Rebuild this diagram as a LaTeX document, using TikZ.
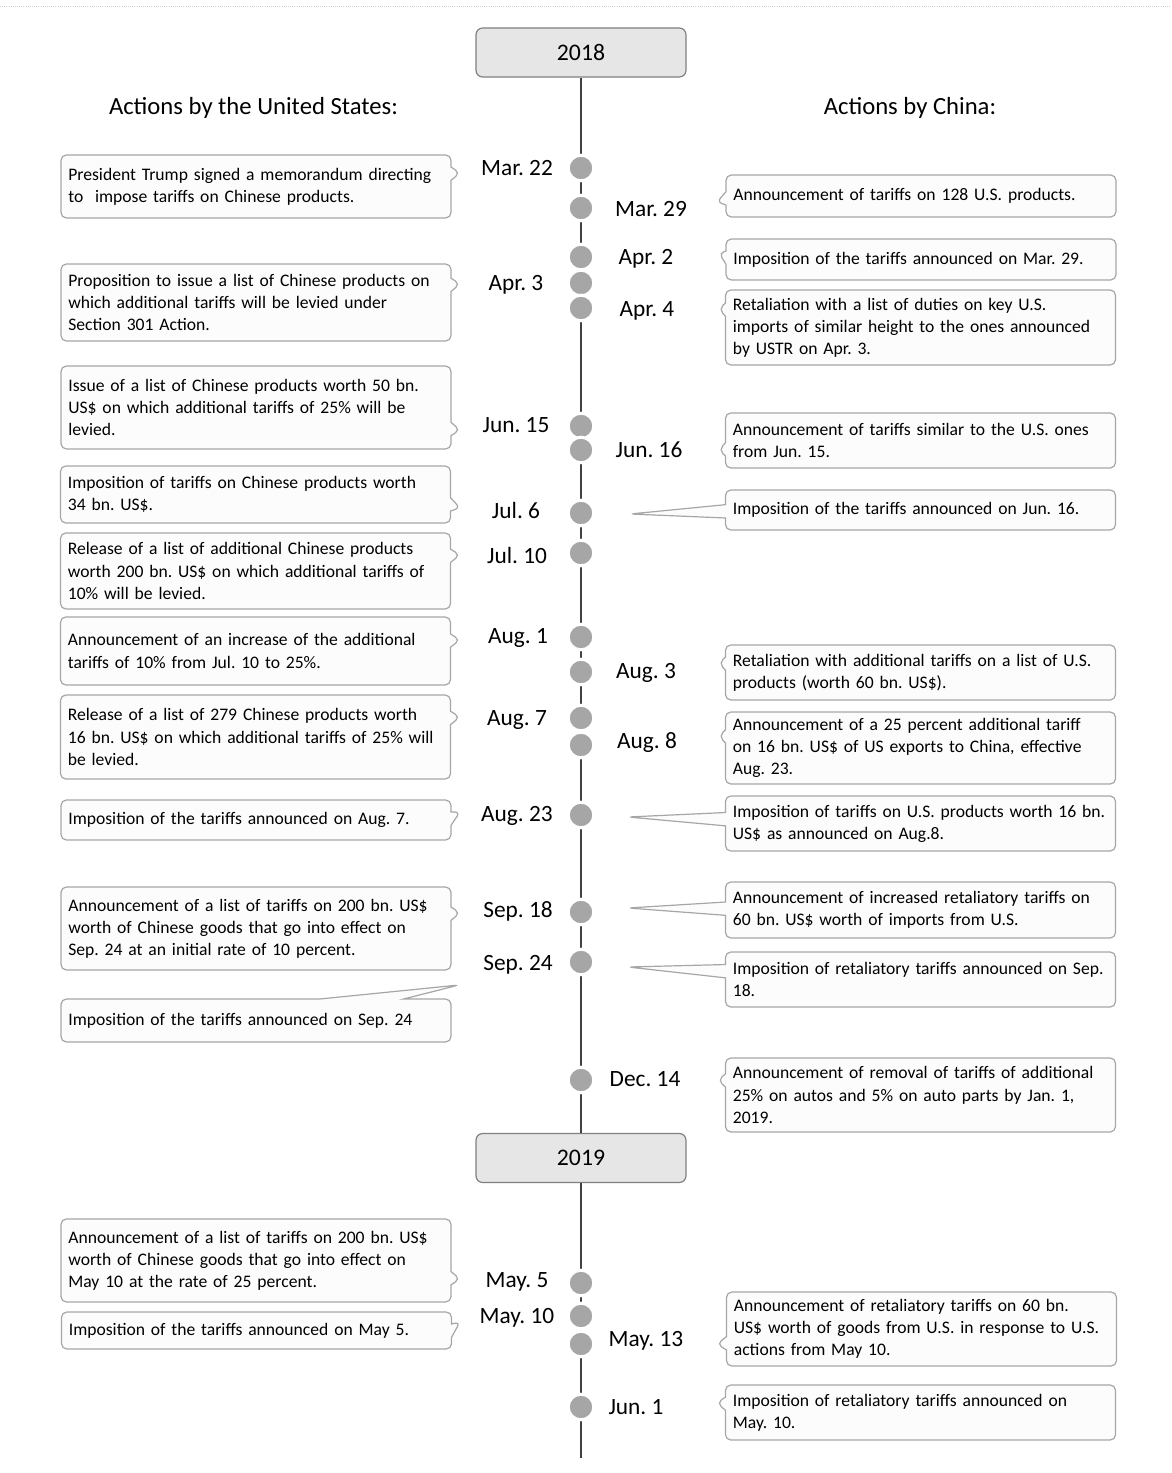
\documentclass[tikz,border=0pt]{standalone}
\usepackage{fontspec}
\setmainfont{Carlito}
\usepackage{tikz}
\usetikzlibrary{shapes.callouts}
\frenchspacing
\hyphenpenalty=10000
\exhyphenpenalty=10000

\begin{document}
\begin{tikzpicture}[x=0.75pt,y=0.75pt,yscale=-1,xscale=1,
  yearbox/.style={draw={rgb, 255:red, 128; green, 128; blue, 128 }, fill={rgb, 255:red, 230; green, 230; blue, 230 }, line width=0.9pt, rounded corners=5pt, minimum width=157.5pt, minimum height=36.75pt, inner sep=0pt, font=\fontsize{17.8}{20}\selectfont},
  axis/.style={draw={rgb, 255:red, 64; green, 64; blue, 64 }, line width=1.5pt},
  stop/.style={circle, fill={rgb, 255:red, 166; green, 166; blue, 166 }, draw=white, line width=2.25pt, minimum size=19.2pt, inner sep=0pt},
  when/.style={inner sep=0pt, font=\fontsize{17.5}{20}\selectfont},
  head/.style={inner sep=0pt, font=\fontsize{18.5}{21}\selectfont},
  note/.style={rectangle callout, draw={rgb, 255:red, 166; green, 166; blue, 166 }, fill={rgb, 255:red, 252; green, 252; blue, 252 }, line width=0.9pt, rounded corners=4pt, callout pointer width=10pt, inner ysep=0pt, align=left, font=\fontsize{13.2}{16.6}\selectfont},
  usnote/.style={note, text width=281.5pt, inner xsep=5.5pt},
  cnnote/.style={note, text width=281.5pt, inner xsep=5.5pt}
]
\useasboundingbox (0,0) rectangle (1171,1473);

%Straight Lines: remains of the caption rule
\draw [color={rgb, 255:red, 205; green, 205; blue, 205 }, line width=0.6pt, densely dotted] (0,6) -- (1171,6);

% Year boxes
\node [yearbox] (y2018) at (581,52.5) {2018};
\node [yearbox] (y2019) at (581,1158) {2019};
\coordinate (tlend) at (581,1458);

%Straight Lines: time axis
\draw [axis] (y2018) -- (y2019);
\draw [axis] (y2019) -- (tlend);

% Text Node
\node [head] (ushead) at (253.5,108) {Actions by the United States:};
% Text Node
\node [head] (cnhead) at (910,108) {Actions by China:};

%Shape: Circle (2018)
\node [stop] (mar22) at (581,168) {};
\node [stop] (mar29) at (581,208) {};
\node [stop] (apr2) at (581,257) {};
\node [stop] (apr3) at (581,283) {};
\node [stop] (apr4) at (581,308) {};
\node [stop] (jun15) at (581,426) {};
\node [stop] (jun16) at (581,450) {};
\node [stop] (jul6) at (581,513) {};
\node [stop] (jul10) at (581,553) {};
\node [stop] (aug1) at (581,637) {};
\node [stop] (aug3) at (581,672) {};
\node [stop] (aug7) at (581,718) {};
\node [stop] (aug8) at (581,745) {};
\node [stop] (aug23) at (581,815) {};
\node [stop] (sep18) at (581,912) {};
\node [stop] (sep24) at (581,962) {};
\node [stop] (dec14) at (581,1080) {};
%Shape: Circle (2019)
\node [stop] (may5) at (581,1283) {};
\node [stop] (may10) at (581,1316) {};
\node [stop] (may13) at (581,1344) {};
\node [stop] (jun1) at (581,1407) {};

% Text Node: dates on the left
\node [when] (tmar22) at (517,168) {Mar. 22};
\node [when] (tapr3) at (516,285) {Apr. 3};
\node [when] (tjun15) at (516,425) {Jun. 15};
\node [when] (tjul6) at (516,510) {Jul. 6};
\node [when] (tjul10) at (517,555) {Jul. 10};
\node [when] (taug1) at (518,638) {Aug. 1};
\node [when] (taug7) at (517,720) {Aug. 7};
\node [when] (taug23) at (517,816) {Aug. 23};
\node [when] (tsep18) at (518,911) {Sep. 18};
\node [when] (tsep24) at (518,965) {Sep. 24};
\node [when] (tmay5) at (517,1282) {May. 5};
\node [when] (tmay10) at (517,1318) {May. 10};
% Text Node: dates on the right
\node [when] (tmar29) at (651,209) {Mar. 29};
\node [when] (tapr2) at (646,259) {Apr. 2};
\node [when] (tapr4) at (647,311) {Apr. 4};
\node [when] (tjun16) at (649,450) {Jun. 16};
\node [when] (taug3) at (646,673) {Aug. 3};
\node [when] (taug8) at (647,743) {Aug. 8};
\node [when] (tdec14) at (645,1079) {Dec. 14};
\node [when] (tmay13) at (646,1341) {May. 13};
\node [when] (tjun1) at (636,1407) {Jun. 1};

% Pointer tips
\coordinate (pus1) at (460,173);
\coordinate (pus2) at (460,284);
\coordinate (pus3) at (460,430);
\coordinate (pus4) at (460,508);
\coordinate (pus5) at (460,555);
\coordinate (pus6) at (460,640);
\coordinate (pus7) at (460,717);
\coordinate (pus8) at (460,812);
\coordinate (pus9) at (460,913);
\coordinate (pus10) at (459,985);
\coordinate (pus11) at (460,1279);
\coordinate (pus12) at (460,1322);
\coordinate (pcn1) at (717,202);
\coordinate (pcn2) at (719,253);
\coordinate (pcn3) at (719,309);
\coordinate (pcn4) at (719,450);
\coordinate (pcn5) at (630,514);
\coordinate (pcn6) at (719,663);
\coordinate (pcn7) at (719,736);
\coordinate (pcn8) at (628,817);
\coordinate (pcn9) at (628,908);
\coordinate (pcn10) at (628,967);
\coordinate (pcn11) at (718,1080);
\coordinate (pcn12) at (717,1344);
\coordinate (pcn13) at (717,1403);

%Shape: Callout (United States)
\node [usnote, minimum height=47.25pt, callout absolute pointer={(pus1)}] (us1) at (256,186.5) {President Trump signed a memorandum directing\\to~ impose tariffs on Chinese products.};
\node [usnote, minimum height=57.75pt, callout absolute pointer={(pus2)}] (us2) at (256,302.5) {Proposition to issue a list of Chinese products on\\which additional tariffs will be levied under\\Section 301 Action.};
\node [usnote, minimum height=62.25pt, callout absolute pointer={(pus3)}] (us3) at (256,407.5) {Issue of a list of Chinese products worth 50 bn.\\US\$ on which additional tariffs of 25\% will be\\levied.};
\node [usnote, minimum height=42.75pt, callout absolute pointer={(pus4)}] (us4) at (255.5,494.5) {Imposition of tariffs on Chinese products worth\\34 bn. US\$.};
\node [usnote, minimum height=57pt, callout absolute pointer={(pus5)}] (us5) at (255.5,571) {Release of a list of additional Chinese products\\worth 200 bn. US\$ on which additional tariffs of\\10\% will be levied.};
\node [usnote, minimum height=51pt, callout absolute pointer={(pus6)}] (us6) at (255.5,651) {Announcement of an increase of the additional\\tariffs of 10\% from Jul. 10 to 25\%.};
\node [usnote, minimum height=63pt, callout absolute pointer={(pus7)}] (us7) at (255.5,737) {Release of a list of 279 Chinese products worth\\16 bn. US\$ on which additional tariffs of 25\% will\\be levied.};
\node [usnote, minimum height=30pt, callout absolute pointer={(pus8)}] (us8) at (256,820) {Imposition of the tariffs announced on Aug. 7.};
\node [usnote, minimum height=62.25pt, callout absolute pointer={(pus9)}] (us9) at (256,928.5) {Announcement of a list of tariffs on 200 bn. US\$\\worth of Chinese goods that go into effect on\\Sep. 24 at an initial rate of 10 percent.};
\node [usnote, minimum height=32.25pt, callout pointer width=63pt, callout absolute pointer={(pus10)}] (us10) at (256,1020.5) {Imposition of the tariffs announced on Sep. 24};
\node [usnote, minimum height=62.25pt, callout absolute pointer={(pus11)}] (us11) at (256,1260.5) {Announcement of a list of tariffs on 200 bn. US\$\\worth of Chinese goods that go into effect on\\May 10 at the rate of 25 percent.};
\node [usnote, minimum height=27.75pt, callout absolute pointer={(pus12)}] (us12) at (256.5,1330.5) {Imposition of the tariffs announced on May 5.};

%Shape: Callout (China)
\node [cnnote, minimum height=31.5pt, callout absolute pointer={(pcn1)}] (cn1) at (921,196) {Announcement of tariffs on 128 U.S. products.};
\node [cnnote, minimum height=30.75pt, callout absolute pointer={(pcn2)}] (cn2) at (921,259.5) {Imposition of the tariffs announced on Mar. 29.};
\node [cnnote, minimum height=56.25pt, callout absolute pointer={(pcn3)}] (cn3) at (920.5,327.5) {Retaliation with a list of duties on key U.S.\\imports of similar height to the ones announced\\by USTR on Apr. 3.};
\node [cnnote, minimum height=41.25pt, callout absolute pointer={(pcn4)}] (cn4) at (920.5,440.5) {Announcement of tariffs similar to the U.S. ones\\from Jun. 15.};
\node [cnnote, minimum height=30pt, callout absolute pointer={(pcn5)}] (cn5) at (920.5,510) {Imposition of the tariffs announced on Jun. 16.};
\node [cnnote, minimum height=41.25pt, callout absolute pointer={(pcn6)}] (cn6) at (920.5,672.5) {Retaliation with additional tariffs on a list of U.S.\\products (worth 60 bn. US\$).};
\node [cnnote, minimum height=54pt, callout absolute pointer={(pcn7)}] (cn7) at (920.5,748) {Announcement of a 25 percent additional tariff\\on 16 bn. US\$ of US exports to China, effective\\Aug. 23.};
\node [cnnote, minimum height=41.25pt, callout absolute pointer={(pcn8)}] (cn8) at (920.5,823.5) {Imposition of tariffs on U.S. products worth 16 bn.\\US\$ as announced on Aug.8.};
\node [cnnote, minimum height=42pt, callout absolute pointer={(pcn9)}] (cn9) at (920.5,910) {Announcement of increased retaliatory tariffs on\\60 bn. US\$ worth of imports from U.S.};
\node [cnnote, minimum height=41.25pt, callout absolute pointer={(pcn10)}] (cn10) at (920.5,979.5) {Imposition of retaliatory tariffs announced on Sep.\\18.};
\node [cnnote, minimum height=55.5pt, callout absolute pointer={(pcn11)}] (cn11) at (920.5,1095) {Announcement of removal of tariffs of additional\\25\% on autos and 5\% on auto parts by Jan. 1,\\2019.};
\node [cnnote, minimum height=55.5pt, callout absolute pointer={(pcn12)}] (cn12) at (921.5,1329) {Announcement of retaliatory tariffs on 60 bn.\\US\$ worth of goods from U.S. in response to U.S.\\actions from May 10.};
\node [cnnote, minimum height=41.25pt, callout absolute pointer={(pcn13)}] (cn13) at (920.5,1412.5) {Imposition of retaliatory tariffs announced on\\May. 10.};

\end{tikzpicture}
\end{document}
